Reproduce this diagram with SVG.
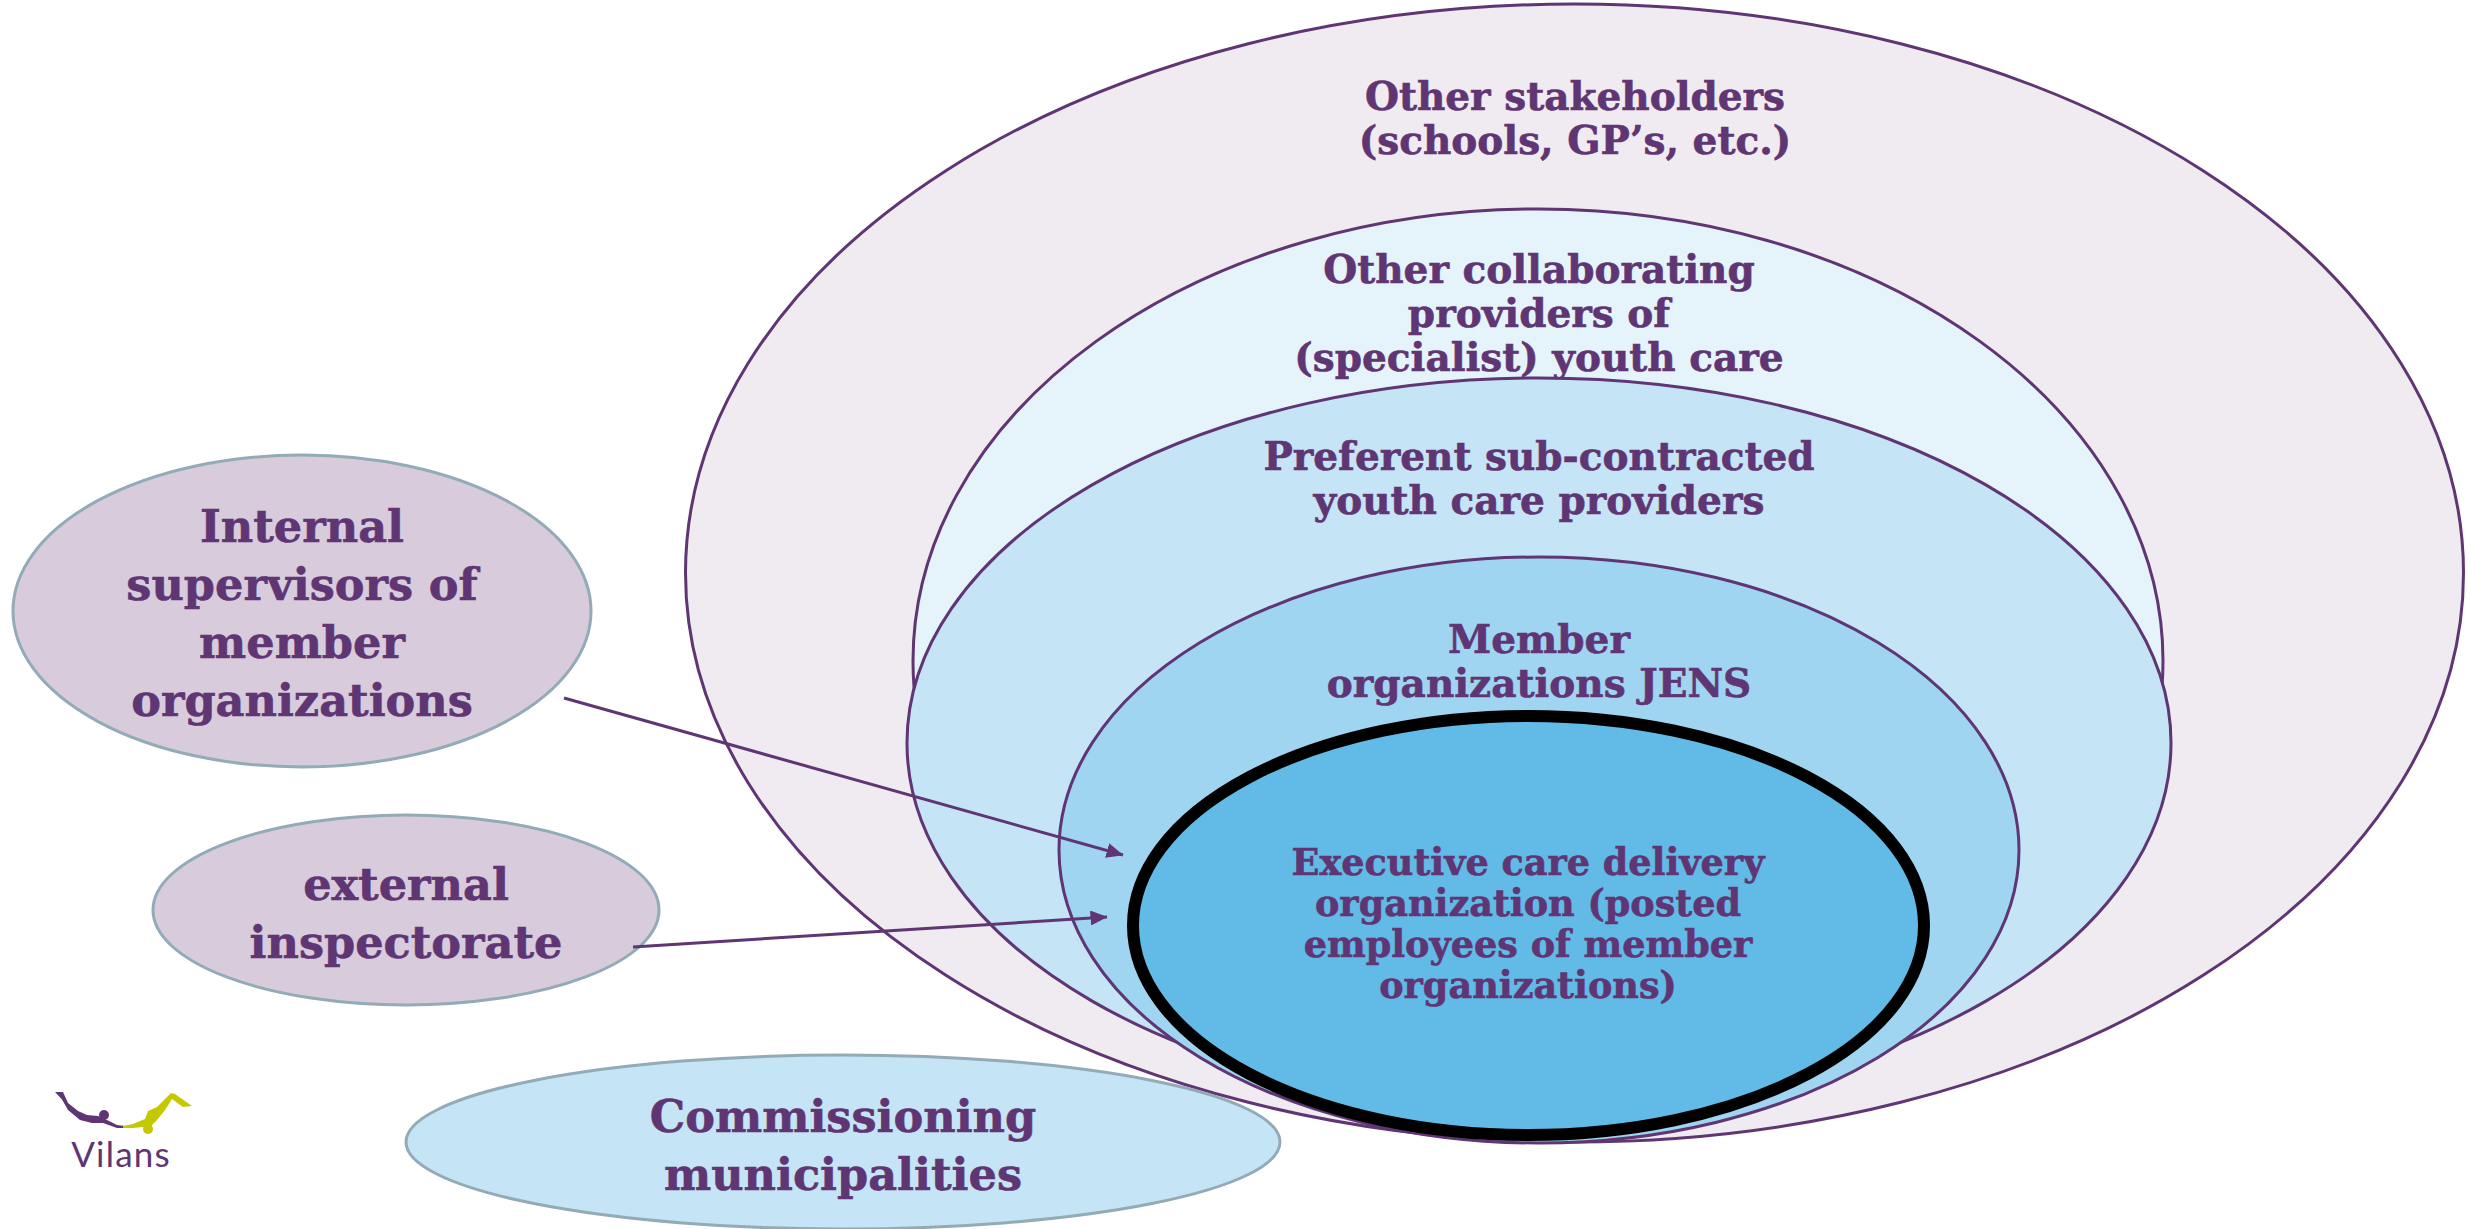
<svg xmlns="http://www.w3.org/2000/svg" width="2470" height="1229" viewBox="0 0 2470 1229">
<style>
.t{font-family:"DejaVu Serif","Liberation Serif",serif;font-weight:700;fill:#5f3573;stroke:#5f3573;stroke-width:.6;text-anchor:middle}
.a{font-size:39px}.b{font-size:36.6px}.c{font-size:44.6px}
.e{stroke:#5f3573;stroke-width:3}
.l{stroke:#93abb6;stroke-width:3}
.k{stroke:#5f3573;stroke-width:3;fill:none;marker-end:url(#ah)}
.p{fill:#5f3573}.g{fill:#c4c800}
</style>
<defs><marker id="ah" markerUnits="userSpaceOnUse" markerWidth="17" markerHeight="15" refX="16.5" refY="7.5" orient="auto"><path d="M0 0L17 7.5L0 15Z" fill="#5f3573"/></marker></defs>
<rect width="2470" height="1229" fill="#fff"/>
<g id="n-other-stakeholders"><ellipse class="e" cx="1574.5" cy="573" rx="889" ry="569" fill="#f0eaf1"/>
<text class="t a"><tspan x="1575" y="110">Other stakeholders</tspan><tspan x="1575" y="154">(schools, GP’s, etc.)</tspan></text></g>
<g id="n-collaborating"><ellipse class="e" cx="1538" cy="661" rx="625" ry="452" fill="#e5f3fb"/>
<text class="t a"><tspan x="1539" y="283">Other collaborating</tspan><tspan x="1539" y="327">providers of</tspan><tspan x="1539" y="371">(specialist) youth care</tspan></text></g>
<g id="n-preferent"><ellipse class="e" cx="1539" cy="743" rx="632" ry="365" fill="#c5e4f6"/>
<text class="t a"><tspan x="1539" y="470">Preferent sub-contracted</tspan><tspan x="1539" y="514">youth care providers</tspan></text></g>
<g id="n-member"><ellipse class="e" cx="1539" cy="850" rx="480" ry="293" fill="#9fd5f0"/>
<text class="t a"><tspan x="1539" y="653">Member</tspan><tspan x="1539" y="697">organizations JENS</tspan></text></g>
<g id="n-executive"><ellipse cx="1528.5" cy="925.5" rx="395.5" ry="209.5" fill="#62bae6" stroke="#000" stroke-width="12"/>
<text class="t b"><tspan x="1528" y="875">Executive care delivery</tspan><tspan x="1528" y="916">organization (posted</tspan><tspan x="1528" y="957">employees of member</tspan><tspan x="1528" y="998">organizations)</tspan></text></g>
<g id="n-internal"><ellipse class="l" cx="302" cy="611" rx="289" ry="156" fill="#d7cbdc"/>
<text class="t c"><tspan x="302" y="542">Internal</tspan><tspan x="302" y="600">supervisors of</tspan><tspan x="302" y="658">member</tspan><tspan x="302" y="716">organizations</tspan></text></g>
<g id="n-external"><ellipse class="l" cx="406" cy="910" rx="253" ry="95" fill="#d7cbdc"/>
<text class="t c"><tspan x="406" y="900">external</tspan><tspan x="406" y="958">inspectorate</tspan></text></g>
<g id="n-commissioning"><ellipse class="l" cx="843" cy="1142" rx="437" ry="87" fill="#c5e4f6"/>
<text class="t c"><tspan x="843" y="1132">Commissioning</tspan><tspan x="843" y="1190">municipalities</tspan></text></g>
<g id="connectors"><path class="k" d="M564 698L1123 855"/><path class="k" d="M633 947L1107 917"/></g>
<g id="logo">
<path class="p" d="M55 1092L63 1092L68 1103L78 1111L87 1115L98 1116L107 1120L117 1125L125 1126L124 1128L117 1128L103 1123L92 1123L80 1120L68 1110L62 1099.5Z"/><circle class="p" cx="104" cy="1115" r="5"/>
<path class="g" d="M123 1126L133 1124L145 1119L148 1111L157 1107L171 1093L175 1094L192 1106L183 1107L172 1099L165 1110L157 1120L150 1127L143 1127L133 1128L123 1128Z"/><circle class="g" cx="148" cy="1129" r="5"/>
<text x="121" y="1167" font-family="Lato,sans-serif" font-size="35" fill="#5f3573" text-anchor="middle" letter-spacing="1.2">Vilans</text>
</g>
</svg>
